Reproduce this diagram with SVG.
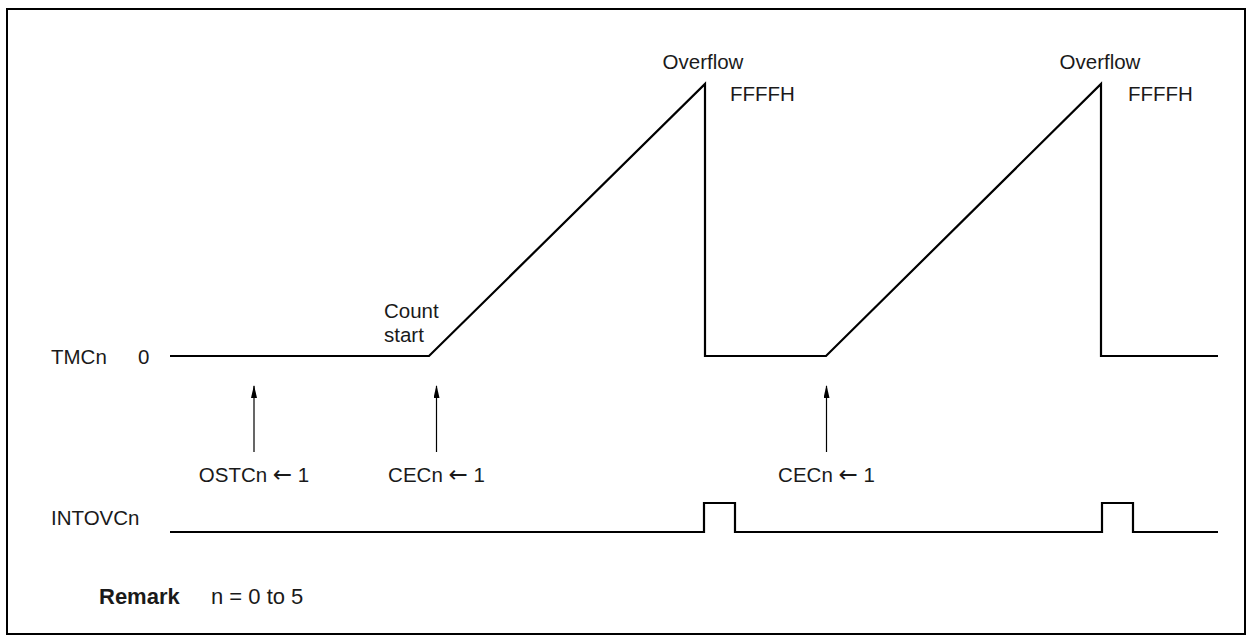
<svg xmlns="http://www.w3.org/2000/svg" width="1253" height="643" viewBox="0 0 1253 643">
<defs>
<style>
.t{font-family:"Liberation Sans",Arial,sans-serif;font-size:20.5px;fill:#1a1a1a}
.b{font-weight:bold;font-size:22px}
.r{font-size:22px}
.ar{font-family:"DejaVu Sans",sans-serif;font-size:23px}
.w{fill:none;stroke:#000;stroke-width:2.2;stroke-linejoin:miter}
.a{stroke:#000;stroke-width:1.2;fill:none}
</style>
<marker id="ah" viewBox="0 0 13 6" refX="12" refY="3" markerWidth="13" markerHeight="6" markerUnits="userSpaceOnUse" orient="auto">
<path d="M0,0 L13,3 L0,6 Z" fill="#000"/>
</marker>
</defs>
<rect width="1253" height="643" fill="#fff"/>
<rect x="7" y="9" width="1238" height="625" fill="none" stroke="#000" stroke-width="2"/>

<g id="tmcn">
<text class="t" x="51" y="364">TMCn</text>
<text class="t" x="138" y="364">0</text>
</g>
<g id="intovcn">
<text class="t" x="51" y="525">INTOVCn</text>
</g>
<g id="labels">
<text class="t" x="384" y="318">Count</text>
<text class="t" x="384" y="342">start</text>
<text class="t" x="703" y="69" text-anchor="middle">Overflow</text>
<text class="t" x="1100" y="69" text-anchor="middle">Overflow</text>
<text class="t" x="730" y="101">FFFFH</text>
<text class="t" x="1128" y="101">FFFFH</text>
<text class="t" x="254" y="482" text-anchor="middle">OSTCn <tspan class="ar">←</tspan> 1</text>
<text class="t" x="436.5" y="482" text-anchor="middle">CECn <tspan class="ar">←</tspan> 1</text>
<text class="t" x="826.5" y="482" text-anchor="middle">CECn <tspan class="ar">←</tspan> 1</text>
</g>
<g id="remark">
<text class="t b" x="99" y="604">Remark</text>
<text class="t r" x="211" y="604">n = 0 to 5</text>
</g>

<g id="connectors">
<path class="w" d="M170,356 L429,356 L705,84 L705,356 L826,356 L1101,84 L1101,356 L1218,356"/>
<path class="w" d="M170,532 L704,532 L704,503 L735,503 L735,532 L1102,532 L1102,503 L1133,503 L1133,532 L1218,532"/>
<line class="a" x1="254" y1="452" x2="254" y2="386" marker-end="url(#ah)"/>
<line class="a" x1="436.5" y1="452" x2="436.5" y2="386" marker-end="url(#ah)"/>
<line class="a" x1="826.5" y1="452" x2="826.5" y2="386" marker-end="url(#ah)"/>
</g>
</svg>
